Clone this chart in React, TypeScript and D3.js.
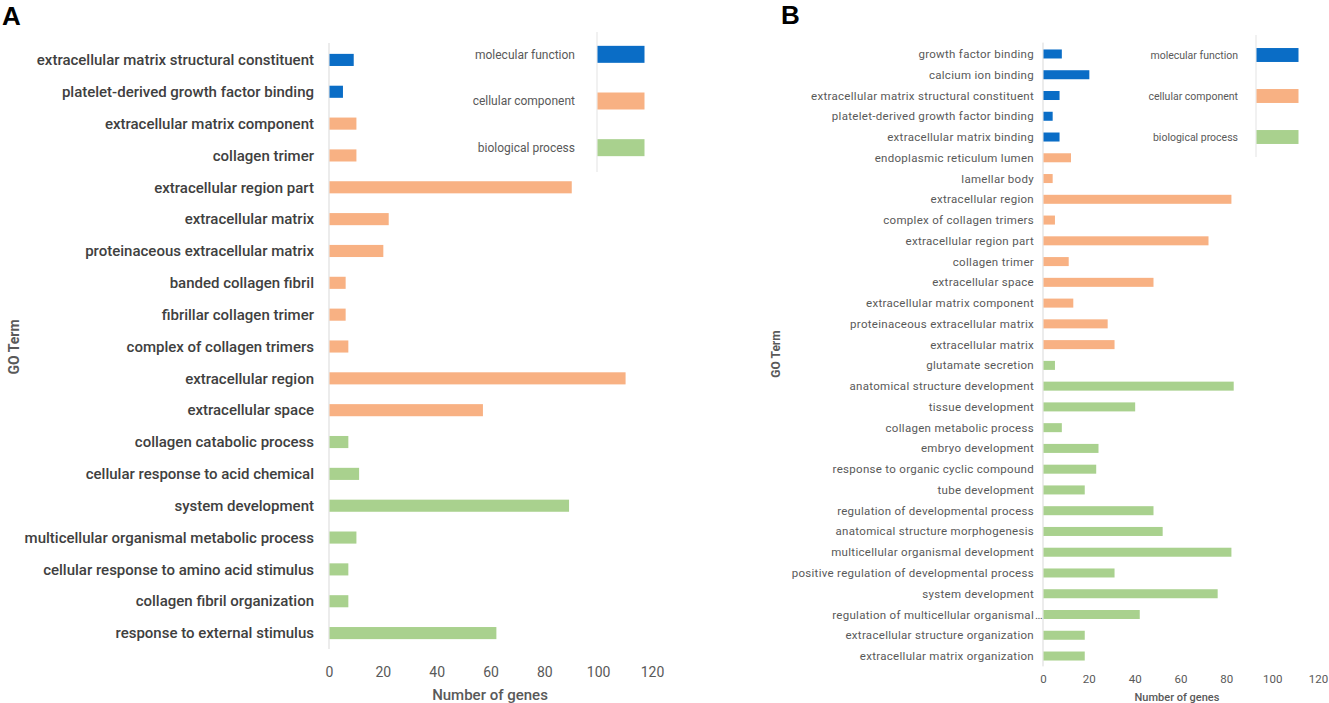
import React, { useEffect, useRef } from 'react';
import * as d3 from 'd3';

// category keys: mf = molecular function, cc = cellular component, bp = biological process
const legendKeys = ['mf', 'cc', 'bp'];
const legendLabels = ['molecular function', 'cellular component', 'biological process'];
const legendColors = ['#0a6dc6', '#f8b183', '#a9d18e'];

const termsA = [
  'extracellular matrix structural constituent',
  'platelet-derived growth factor binding',
  'extracellular matrix component',
  'collagen trimer',
  'extracellular region part',
  'extracellular matrix',
  'proteinaceous extracellular matrix',
  'banded collagen fibril',
  'fibrillar collagen trimer',
  'complex of collagen trimers',
  'extracellular region',
  'extracellular space',
  'collagen catabolic process',
  'cellular response to acid chemical',
  'system development',
  'multicellular organismal metabolic process',
  'cellular response to amino acid stimulus',
  'collagen fibril organization',
  'response to external stimulus',
];
const countsA = [9, 5, 10, 10, 90, 22, 20, 6, 6, 7, 110, 57, 7, 11, 89, 10, 7, 7, 62];
const groupsA = ['mf', 'mf', 'cc', 'cc', 'cc', 'cc', 'cc', 'cc', 'cc', 'cc', 'cc', 'cc',
  'bp', 'bp', 'bp', 'bp', 'bp', 'bp', 'bp'];

const termsB = [
  'growth factor binding',
  'calcium ion binding',
  'extracellular matrix structural constituent',
  'platelet-derived growth factor binding',
  'extracellular matrix binding',
  'endoplasmic reticulum lumen',
  'lamellar body',
  'extracellular region',
  'complex of collagen trimers',
  'extracellular region part',
  'collagen trimer',
  'extracellular space',
  'extracellular matrix component',
  'proteinaceous extracellular matrix',
  'extracellular matrix',
  'glutamate secretion',
  'anatomical structure development',
  'tissue development',
  'collagen metabolic process',
  'embryo development',
  'response to organic cyclic compound',
  'tube development',
  'regulation of developmental process',
  'anatomical structure morphogenesis',
  'multicellular organismal development',
  'positive regulation of developmental process',
  'system development',
  'regulation of multicellular organismal…',
  'extracellular structure organization',
  'extracellular matrix organization',
];
const countsB = [8, 20, 7, 4, 7, 12, 4, 82, 5, 72, 11, 48, 13, 28, 31, 5, 83, 40, 8, 24, 23, 18,
  48, 52, 82, 31, 76, 42, 18, 18];
const groupsB = ['mf', 'mf', 'mf', 'mf', 'mf', 'cc', 'cc', 'cc', 'cc', 'cc', 'cc', 'cc', 'cc', 'cc', 'cc',
  'bp', 'bp', 'bp', 'bp', 'bp', 'bp', 'bp', 'bp', 'bp', 'bp', 'bp', 'bp', 'bp', 'bp', 'bp'];

const xTicks = [0, 20, 40, 60, 80, 100, 120];

const FONT = "Roboto, 'Noto Sans', sans-serif";

const App: React.FC = () => {
  const svgRef = useRef<SVGSVGElement>(null);

  useEffect(() => {
    if (!svgRef.current) return;
    const svg = d3.select(svgRef.current);
    svg.selectAll('*').remove();

    const color = d3.scaleOrdinal<string, string>().domain(legendKeys).range(legendColors);

    const panel = (opts: any) => {
      const g = svg.append('g').style('font-family', FONT);
      const rows = opts.terms.map((t: string, i: number) => ({ t, v: opts.counts[i], k: opts.groups[i] }));

      const x = d3.scaleLinear().domain([0, 120]).range(opts.xRange);
      const y = d3.scaleBand<string>()
        .domain(opts.terms)
        .range(opts.yRange)
        .paddingInner(opts.pad)
        .paddingOuter(opts.pad / 2);

      // panel letter
      g.append('text')
        .attr('x', opts.letter[0]).attr('y', opts.letter[1])
        .style('font-family', "'Liberation Sans', Arial, sans-serif")
        .style('font-size', '26px').style('font-weight', 700)
        .attr('fill', '#000')
        .text(opts.letterText);

      // vertical axis line
      g.append('line')
        .attr('x1', x(0)).attr('x2', x(0))
        .attr('y1', opts.yRange[0] - 1).attr('y2', opts.yRange[1])
        .attr('stroke', '#d9d9d9').attr('stroke-width', 1);

      g.append('g').selectAll('rect')
        .data(rows)
        .join('rect')
        .attr('x', x(0) + 0.5)
        .attr('y', (d: any) => y(d.t)!)
        .attr('width', (d: any) => x(d.v) - x(0))
        .attr('height', y.bandwidth())
        .attr('fill', (d: any) => color(d.k));

      const labels = g.append('g')
        .style('font-size', opts.labelSize + 'px')
        .style('font-weight', opts.labelWeight)
        .style('letter-spacing', opts.labelSpacing + 'px')
        .attr('fill', opts.labelColor);

      labels.selectAll('text.lab')
        .data(rows)
        .join('text')
        .attr('class', 'lab')
        .attr('x', opts.labelRight)
        .attr('y', (d: any) => y(d.t)! + y.bandwidth() / 2)
        .attr('dy', '0.35em')
        .attr('text-anchor', 'end')
        .text((d: any) => d.t.replace(/…$/, ''));

      labels.selectAll('text.ell')
        .data(rows.filter((d: any) => d.t.endsWith('…')))
        .join('text')
        .attr('class', 'ell')
        .attr('x', opts.labelRight + 1)
        .attr('y', (d: any) => y(d.t)! + y.bandwidth() / 2)
        .attr('dy', '0.35em')
        .text('…');

      // x tick labels (axis without line/ticks)
      const ax = g.append('g')
        .attr('transform', `translate(0,${opts.tickY})`)
        .call(d3.axisBottom(x).tickValues(xTicks).tickSize(0).tickPadding(0));
      ax.select('.domain').remove();
      ax.selectAll('text')
        .style('font-family', FONT)
        .style('font-size', opts.tickSize + 'px')
        .attr('fill', '#595959')
        .attr('dy', '0.35em');

      g.append('text')
        .attr('x', opts.xTitle[0]).attr('y', opts.xTitle[1])
        .attr('text-anchor', 'middle')
        .attr('dy', '0.35em')
        .style('font-size', opts.xTitleSize + 'px')
        .style('font-weight', 500)
        .attr('fill', '#595959')
        .text('Number of genes');

      g.append('text')
        .attr('transform', `translate(${opts.yTitle[0]},${opts.yTitle[1]}) rotate(-90)`)
        .attr('text-anchor', 'middle')
        .attr('dy', '0.35em')
        .style('font-size', opts.yTitleSize + 'px')
        .style('font-weight', 700)
        .attr('fill', '#595959')
        .text('GO Term');

      // legend drawn as a small bar chart
      const lg = opts.legend;
      g.append('line')
        .attr('x1', lg.x).attr('x2', lg.x)
        .attr('y1', lg.lineY[0]).attr('y2', lg.lineY[1])
        .attr('stroke', '#e3e3e3');
      const ly = d3.scaleBand<string>().domain(legendKeys).range(lg.yRange).paddingInner(lg.pad).paddingOuter(lg.pad / 2);
      g.append('g').selectAll('rect')
        .data(legendKeys)
        .join('rect')
        .attr('x', lg.x + 0.5)
        .attr('y', (k) => ly(k)!)
        .attr('width', lg.w)
        .attr('height', ly.bandwidth())
        .attr('fill', (k) => color(k));
      g.append('g').selectAll('text')
        .data(legendKeys)
        .join('text')
        .attr('x', lg.textRight)
        .attr('y', (k) => ly(k)! + ly.bandwidth() / 2)
        .attr('dy', '0.35em')
        .attr('text-anchor', 'end')
        .style('font-size', lg.size + 'px')
        .attr('fill', '#595959')
        .text((k, i) => legendLabels[i]);
    };

    panel({
      letterText: 'A', letter: [2, 25],
      terms: termsA, counts: countsA, groups: groupsA,
      xRange: [329, 652], yRange: [44, 649], pad: 0.62,
      labelRight: 314, labelSize: 15, labelWeight: 500, labelSpacing: 0, labelColor: '#404040',
      tickY: 672, tickSize: 14,
      xTitle: [490, 695], xTitleSize: 15,
      yTitle: [14, 347], yTitleSize: 14,
      legend: { x: 597, lineY: [32, 172], yRange: [31, 171], pad: 0.636, w: 47, textRight: 575, size: 12 },
    });

    panel({
      letterText: 'B', letter: [781, 24],
      terms: termsB, counts: countsB, groups: groupsB,
      xRange: [1043, 1318], yRange: [43.6, 666.4], pad: 0.566,
      labelRight: 1034, labelSize: 11.5, labelWeight: 400, labelSpacing: 0.3, labelColor: '#595959',
      tickY: 679, tickSize: 11.5,
      xTitle: [1177, 697], xTitleSize: 11,
      yTitle: [776, 354], yTitleSize: 12,
      legend: { x: 1256, lineY: [35, 157], yRange: [34.5, 157.5], pad: 0.66, w: 42, textRight: 1238, size: 10.5 },
    });
  }, []);

  return (
    <div style={{ position: 'absolute', left: 0, top: 0, width: 1329, height: 703, background: '#fff' }}>
      <svg ref={svgRef} width={1329} height={703} style={{ display: 'block' }} />
    </div>
  );
};

export default App;
